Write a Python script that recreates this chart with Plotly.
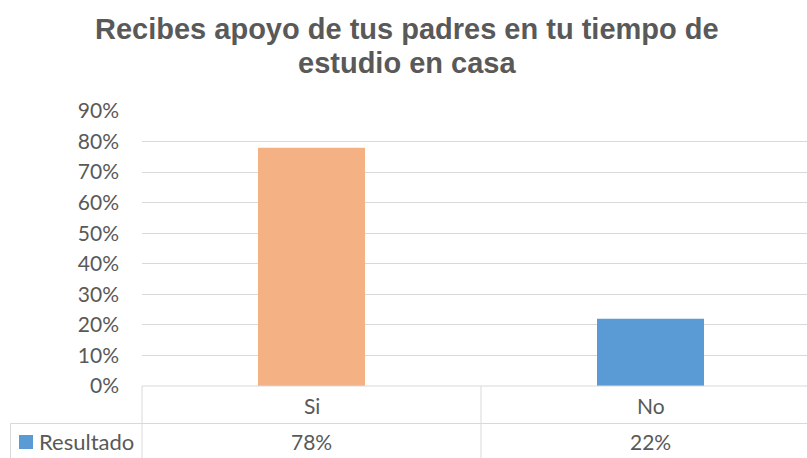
import plotly.graph_objects as go

categories = ["Si", "No"]
values = [0.78, 0.22]
bar_colors = ["#F4B183", "#5B9BD5"]
series_name = "Resultado"
title_lines = ["Recibes apoyo de tus padres en tu tiempo de", "estudio en casa"]

W, H = 807, 458
L, R, T, B = 142, 0, 111, 72
pw = W - L - R
ph = H - T - B
cat_px = 339.0


def px_x(px):
    return (px - L) / pw


def px_y(py):
    return (H - B - py) / ph


grid = "#D9D9D9"
txt = "#595959"
font_axis = "Lato"
fs = 21

fig = go.Figure()
fig.add_trace(go.Bar(
    x=list(range(len(categories))), y=values, width=107 / cat_px,
    marker=dict(color=bar_colors, line=dict(width=0)),
    name=series_name, showlegend=False, hoverinfo="skip",
))

shapes = []
shapes.append(dict(type="line", xref="paper", yref="paper", x0=px_x(142), x1=1.0,
                   y0=0, y1=0, line=dict(color=grid, width=1)))
shapes.append(dict(type="line", xref="paper", yref="paper", x0=px_x(10.5), x1=1.0,
                   y0=px_y(423.5), y1=px_y(423.5), line=dict(color=grid, width=1)))
shapes.append(dict(type="line", xref="paper", yref="paper", x0=0, x1=0,
                   y0=0, y1=px_y(460), line=dict(color=grid, width=1)))
shapes.append(dict(type="line", xref="paper", yref="paper", x0=px_x(10.5), x1=px_x(10.5),
                   y0=px_y(423.5), y1=px_y(460), line=dict(color=grid, width=1)))
for i in range(len(categories) - 1):
    xb = px_x(L + cat_px * (i + 1))
    shapes.append(dict(type="line", xref="paper", yref="paper", x0=xb, x1=xb,
                       y0=0, y1=px_y(460), line=dict(color=grid, width=1)))
shapes.append(dict(type="rect", xref="paper", yref="paper", x0=px_x(19), x1=px_x(33),
                   y0=px_y(449), y1=px_y(435), fillcolor=bar_colors[1], line=dict(width=0)))

annotations = []
for i, (c, v) in enumerate(zip(categories, values)):
    annotations.append(dict(x=i, xref="x", y=px_y(405), yref="paper", text=c,
                            showarrow=False, xanchor="center", yanchor="middle",
                            font=dict(family=font_axis, size=fs, color=txt)))
    annotations.append(dict(x=i, xref="x", y=px_y(441), yref="paper", text=f"{v:.0%}",
                            showarrow=False, xanchor="center", yanchor="middle",
                            font=dict(family=font_axis, size=fs, color=txt)))
annotations.append(dict(x=px_x(37), xref="paper", y=px_y(441), yref="paper", text=series_name,
                        showarrow=False, xanchor="left", yanchor="middle",
                        font=dict(family=font_axis, size=fs + 1, color=txt)))
for k, (line, top) in enumerate(zip(title_lines, [11, 45])):
    annotations.append(dict(x=px_x(407), xref="paper", y=px_y(top), yref="paper",
                            text=f"<b>{line}</b>",
                            showarrow=False, xanchor="center", yanchor="top",
                            font=dict(family="Liberation Sans, Arial", size=29, color=txt)))

fig.update_layout(
    width=W, height=H,
    margin=dict(l=L, r=R, t=T, b=B, pad=0),
    paper_bgcolor="white", plot_bgcolor="white",
    xaxis=dict(range=[-0.5, -0.5 + pw / cat_px], showticklabels=False, showgrid=False,
               zeroline=False, showline=False, fixedrange=True),
    yaxis=dict(range=[0, 0.9], dtick=0.1, tickformat=".0%", showgrid=True, gridcolor=grid,
               gridwidth=1, zeroline=False, showline=False, ticks="",
               ticklabelstandoff=22,
               tickfont=dict(family=font_axis, size=fs, color=txt), fixedrange=True),
    shapes=shapes,
    annotations=annotations,
    showlegend=False,
)

fig.write_html("out.html", config={"displayModeBar": False},
               post_script="document.body.style.margin='0';document.body.style.overflow='hidden';")
